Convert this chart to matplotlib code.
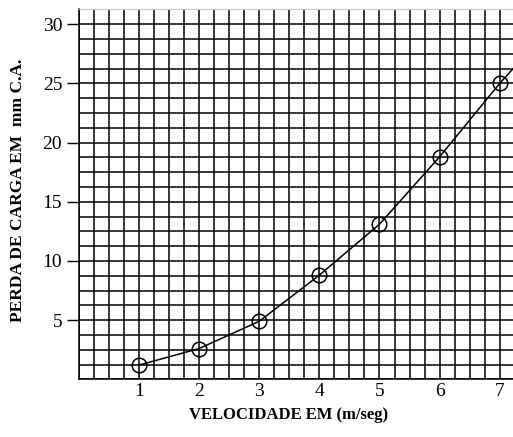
import matplotlib
matplotlib.use("Agg")
import matplotlib.pyplot as plt
from matplotlib.ticker import MultipleLocator

velocity = [1, 2, 3, 4, 5, 6, 7]
head_loss = [1.2, 2.6, 4.9, 8.8, 13.1, 18.8, 25.0]
# curve continues past the last measured point to the plot edge
curve_end_x = [7.25]
curve_end_y = [26.4]

x_ticks = [1, 2, 3, 4, 5, 6, 7]
y_ticks = [5, 10, 15, 20, 25, 30]

plt.rcParams['font.family'] = ['Liberation Serif', 'DejaVu Serif']

fig = plt.figure(figsize=(5.13, 4.37), dpi=100)
ax = fig.add_axes([0.1536, 0.132, 0.8464, 0.8466])

ax.set_xlim(0, 7.22)
ax.set_ylim(0, 31.25)

ax.xaxis.set_minor_locator(MultipleLocator(0.25))
ax.yaxis.set_minor_locator(MultipleLocator(1.25))
ax.set_xticks(x_ticks)
ax.set_yticks(y_ticks)

ax.grid(True, which='both', color='black', linewidth=1.1)
ax.set_axisbelow(True)

ax.tick_params(axis='x', which='major', length=0, pad=3, labelsize=14)
ax.tick_params(axis='y', which='major', length=9, width=1, pad=3, labelsize=14, direction='out')
ax.tick_params(which='minor', length=0)

ax.spines['right'].set_visible(False)
ax.spines['top'].set_color('#c8c8c8')
ax.spines['top'].set_linewidth(0.8)
ax.spines['left'].set_linewidth(1.1)
ax.spines['bottom'].set_linewidth(1.1)

ax.plot(velocity + curve_end_x, head_loss + curve_end_y, color='black', linewidth=1.1,
        clip_on=False, zorder=3)
ax.plot(velocity, head_loss, linestyle='none', marker='o', markersize=10.5,
        markerfacecolor='none', markeredgecolor='black', markeredgewidth=1.1, zorder=4)

ax.set_xlabel('VELOCIDADE EM (m/seg)', fontsize=12, fontweight='bold')
ax.xaxis.set_label_coords(0.482, -0.075)
ax.set_ylabel('PERDA DE CARGA EM  mm C.A.', fontsize=12.5, fontweight='bold')
ax.yaxis.set_label_coords(-0.122, 0.51)

fig.savefig('out.png', dpi=100)
